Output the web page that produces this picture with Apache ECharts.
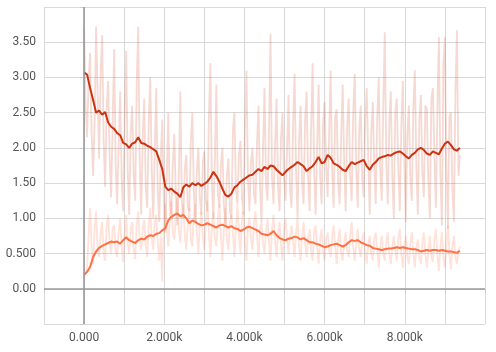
<!DOCTYPE html>
<html><head><meta charset="utf-8">
<script src="https://cdn.jsdelivr.net/npm/echarts@6/dist/echarts.min.js"></script>
<style>html,body{margin:0;padding:0;background:#fff}#c{width:496px;height:352px}</style>
</head><body><div id="c"></div>
<script>
const STEP = 75;      // step spacing of the smoothed series
const RAW_STEP = 37.5; // step spacing of the raw series
const xTickLabels = ['0.000','2.000k','4.000k','6.000k','8.000k'];
const yTickLabels = ['0.00','0.500','1.00','1.50','2.00','2.50','3.00','3.50'];

const raw1 = [
3.70,2.60,2.15,2.95,3.35,2.20,1.60,2.40,3.72,2.75,1.85,3.05,3.60,2.10,1.45,2.55,2.95,1.90,1.30,2.35,
3.40,1.75,1.20,2.05,2.80,1.55,1.10,2.45,3.38,1.70,1.05,2.20,2.60,1.60,1.25,2.90,3.72,1.80,1.05,2.15,
2.70,1.45,1.15,2.35,3.00,1.70,1.00,1.95,2.85,1.40,0.95,1.85,2.40,1.30,0.80,1.60,2.50,1.20,1.05,1.75,
2.20,1.35,0.90,1.55,2.80,1.25,1.00,1.70,1.90,1.15,1.10,2.10,2.50,1.40,0.95,1.65,2.00,1.30,1.05,1.80,
1.95,1.25,1.10,2.40,3.20,1.50,1.00,1.85,2.90,1.35,1.15,1.75,2.00,1.20,0.90,1.60,1.85,1.10,1.00,2.25,
2.50,1.40,1.20,1.90,2.10,1.30,1.05,2.30,3.10,1.55,1.10,1.80,2.00,1.35,1.20,2.05,2.60,1.45,0.95,1.95,
2.85,1.50,1.25,2.20,3.62,1.60,1.20,2.00,2.70,1.45,1.10,2.15,2.50,1.55,1.25,1.95,2.75,1.40,1.15,2.30,
3.05,1.65,1.00,2.10,2.60,1.50,1.20,2.40,2.80,1.55,1.10,2.25,3.20,1.70,1.05,2.00,2.90,1.60,1.20,2.35,
2.65,1.75,1.30,2.20,3.10,1.65,1.15,2.45,2.55,1.50,1.20,2.15,2.90,1.80,1.10,2.30,2.70,1.60,1.25,2.50,
3.05,1.70,1.15,2.25,2.60,1.55,1.30,2.40,2.85,1.85,1.05,2.20,2.65,1.75,1.20,2.45,3.00,1.65,1.25,2.60,
3.64,1.80,1.20,2.35,2.80,1.60,1.00,2.50,2.70,1.70,1.10,2.30,2.95,1.85,0.95,2.20,2.60,1.55,1.25,2.55,
3.10,1.75,1.05,2.40,2.75,1.65,1.30,2.60,2.55,1.50,1.00,2.70,2.85,1.90,1.15,2.55,3.57,1.60,0.90,3.20,
3.57,1.70,0.85,2.45,2.50,1.40,0.95,2.80,3.67,1.60,1.90];

const raw2 = [
0.15,0.22,0.30,0.75,1.15,0.60,0.35,0.85,1.10,0.55,0.45,0.80,0.95,0.50,0.40,0.90,1.05,0.65,0.50,0.85,
0.90,0.55,0.45,0.80,1.00,0.60,0.38,0.75,1.05,0.65,0.50,0.85,0.95,0.55,0.42,0.90,1.10,0.70,0.55,0.85,
0.98,0.60,0.45,0.90,1.15,0.70,0.55,0.95,1.05,0.65,0.40,0.75,0.10,0.90,1.20,0.85,0.60,1.00,1.25,0.80,
0.70,1.05,1.30,0.85,0.65,1.00,1.20,0.75,0.55,0.95,1.15,0.70,0.60,1.05,1.20,0.80,0.50,0.90,1.10,0.75,
0.55,0.95,1.25,0.80,0.45,0.90,1.10,0.70,0.60,1.00,1.20,0.75,0.40,0.85,1.15,0.70,0.55,0.95,1.05,0.80,
0.45,0.85,1.20,0.75,0.50,0.95,1.10,0.65,0.40,0.90,1.00,0.70,0.55,0.95,1.10,0.75,0.45,0.85,0.95,0.65,
0.50,0.80,1.00,0.65,0.40,0.85,1.05,0.70,0.45,0.80,0.95,0.60,0.40,0.85,1.00,0.70,0.50,0.75,0.90,0.65,
0.45,0.80,1.00,0.60,0.40,0.75,0.95,0.65,0.45,0.70,0.85,0.55,0.40,0.80,0.90,0.60,0.35,0.70,0.85,0.55,
0.40,0.70,0.80,0.55,0.45,0.75,0.90,0.60,0.35,0.70,0.85,0.50,0.40,0.65,0.80,0.55,0.45,0.75,0.95,0.60,
0.40,0.65,0.85,0.55,0.45,0.70,0.80,0.50,0.35,0.65,0.75,0.50,0.40,0.70,0.80,0.55,0.30,0.60,0.75,0.50,
0.40,0.65,0.80,0.50,0.35,0.60,0.75,0.55,0.40,0.70,0.85,0.50,0.30,0.60,0.75,0.45,0.35,0.65,0.80,0.50,
0.30,0.60,0.70,0.45,0.35,0.65,0.80,0.50,0.30,0.55,0.75,0.45,0.38,0.70,0.85,0.50,0.25,0.60,0.80,0.45,
0.30,0.65,0.90,0.50,0.28,0.60,0.75,0.45,0.35,0.55,0.60];

const smooth1 = [
3.07,3.04,2.85,2.68,2.50,2.53,2.47,2.51,2.36,2.30,
2.27,2.21,2.18,2.07,2.05,2.00,2.06,2.08,2.15,2.07,
2.06,2.03,2.01,1.98,1.95,1.83,1.70,1.45,1.40,1.42,
1.38,1.35,1.30,1.44,1.48,1.45,1.50,1.47,1.50,1.46,
1.49,1.52,1.58,1.66,1.60,1.52,1.42,1.33,1.31,1.35,
1.44,1.47,1.52,1.55,1.58,1.61,1.62,1.66,1.70,1.67,
1.73,1.70,1.75,1.74,1.69,1.65,1.61,1.66,1.70,1.73,
1.76,1.80,1.77,1.74,1.67,1.71,1.74,1.80,1.87,1.78,
1.80,1.90,1.86,1.78,1.76,1.73,1.69,1.67,1.74,1.80,
1.77,1.79,1.81,1.83,1.74,1.69,1.76,1.80,1.85,1.87,
1.88,1.90,1.89,1.92,1.94,1.95,1.92,1.88,1.85,1.90,
1.93,1.98,2.00,1.97,1.92,1.90,1.95,1.93,1.91,1.99,
2.06,2.09,2.04,1.98,1.96,2.00];

const smooth2 = [
0.20,0.24,0.31,0.45,0.53,0.58,0.61,0.63,0.65,0.67,
0.66,0.67,0.64,0.69,0.73,0.69,0.67,0.65,0.69,0.71,
0.70,0.74,0.76,0.75,0.78,0.79,0.83,0.86,0.97,1.02,
1.05,1.07,1.03,1.05,1.00,0.93,0.97,0.95,0.92,0.90,
0.91,0.93,0.91,0.89,0.87,0.90,0.91,0.89,0.87,0.89,
0.86,0.85,0.82,0.84,0.87,0.88,0.86,0.84,0.82,0.78,
0.77,0.76,0.78,0.82,0.76,0.72,0.70,0.69,0.71,0.72,
0.74,0.73,0.70,0.72,0.69,0.66,0.66,0.64,0.63,0.61,
0.59,0.60,0.62,0.63,0.64,0.62,0.60,0.62,0.66,0.69,
0.68,0.69,0.66,0.64,0.62,0.61,0.58,0.57,0.56,0.55,
0.56,0.57,0.57,0.58,0.59,0.58,0.59,0.58,0.57,0.56,
0.56,0.55,0.53,0.54,0.55,0.54,0.55,0.55,0.54,0.55,
0.54,0.53,0.53,0.52,0.51,0.54];

const pairs = (arr, step) => arr.map((v, i) => [i * step, v]);
const chart = echarts.init(document.getElementById('c'), null, {renderer: 'canvas'});
const lab = {fontFamily: 'Roboto', fontSize: 12, color: '#555'};

chart.setOption({
  animation: false,
  grid: {left: 44, right: 11, top: 7, bottom: 28, containLabel: false},
  xAxis: {
    type: 'value', min: -1000, max: 10000, interval: 1000,
    axisLine: {show: false},
    axisTick: {show: true, length: 4, lineStyle: {color: '#ccc'}},
    splitLine: {show: true, lineStyle: {color: '#d9d9d9', width: 1}},
    axisLabel: Object.assign({}, lab, {margin: 8, showMinLabel: true, showMaxLabel: true,
      formatter: v => { const k = Math.round(v / 2000); return (v >= 0 && v % 2000 === 0 && k < xTickLabels.length) ? xTickLabels[k] : ''; }})
  },
  yAxis: {
    type: 'value', min: -0.5, max: 4.0, interval: 0.5,
    axisLine: {show: false},
    axisTick: {show: true, length: 4, lineStyle: {color: '#ccc'}},
    splitLine: {show: true, lineStyle: {color: '#d9d9d9', width: 1}},
    axisLabel: Object.assign({}, lab, {margin: 8,
      formatter: v => { const k = Math.round(v / 0.5); return (v >= 0 && k < yTickLabels.length) ? yTickLabels[k] : ''; }})
  },
  series: [
    {type: 'line', data: pairs(raw1, RAW_STEP), showSymbol: false, silent: true,
     lineStyle: {color: 'rgba(204,51,17,0.19)', width: 1.8},
     markLine: {silent: true, symbol: 'none', label: {show: false},
       lineStyle: {color: '#9a9a9a', width: 1.6, type: 'solid'},
       data: [{xAxis: 0}, {yAxis: 0}]}},
    {type: 'line', data: pairs(raw2, RAW_STEP), showSymbol: false, silent: true,
     lineStyle: {color: 'rgba(255,112,67,0.2)', width: 1.8}},
    {type: 'line', data: pairs(smooth2, STEP), showSymbol: false, silent: true,
     lineStyle: {color: '#ff7043', width: 2}},
    {type: 'line', data: pairs(smooth1, STEP), showSymbol: false, silent: true,
     lineStyle: {color: '#cc3311', width: 2}}
  ]
});
</script></body></html>
